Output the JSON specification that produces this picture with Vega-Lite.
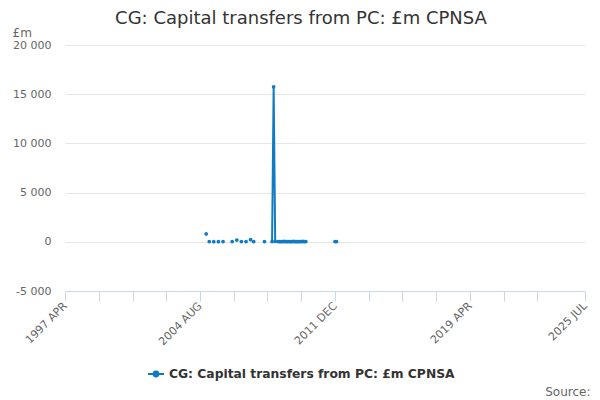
{
  "$schema": "https://vega.github.io/schema/vega-lite/v6.json",
  "description": "CG: Capital transfers from PC, monthly, £m CPNSA. Months with no value are null.",
  "autosize": "none",
  "width": 520,
  "height": 246,
  "padding": {"left": 65, "top": 45, "right": 15, "bottom": 109},
  "background": "white",
  "config": {
    "font": "DejaVu Sans",
    "view": {"stroke": null}
  },
  "title": {
    "text": "CG: Capital transfers from PC: £m CPNSA",
    "fontSize": 18,
    "fontWeight": "normal",
    "color": "#333333",
    "anchor": "middle",
    "frame": "bounds",
    "offset": 6,
    "dy": 8
  },
  "data": {
    "values": [
      {"month": "2004-12", "value": 800},
      {"month": "2005-01", "value": null},
      {"month": "2005-02", "value": 20},
      {"month": "2005-03", "value": null},
      {"month": "2005-05", "value": 10},
      {"month": "2005-06", "value": null},
      {"month": "2005-08", "value": 15},
      {"month": "2005-09", "value": null},
      {"month": "2005-11", "value": 20},
      {"month": "2005-12", "value": null},
      {"month": "2006-05", "value": 30},
      {"month": "2006-06", "value": null},
      {"month": "2006-08", "value": 180},
      {"month": "2006-09", "value": null},
      {"month": "2006-11", "value": 20},
      {"month": "2006-12", "value": null},
      {"month": "2007-02", "value": 25},
      {"month": "2007-03", "value": null},
      {"month": "2007-05", "value": 220},
      {"month": "2007-06", "value": null},
      {"month": "2007-07", "value": 30},
      {"month": "2007-08", "value": null},
      {"month": "2008-02", "value": 20},
      {"month": "2008-03", "value": null},
      {"month": "2008-07", "value": 30},
      {"month": "2008-08", "value": 15750},
      {"month": "2008-09", "value": 40},
      {"month": "2008-10", "value": null},
      {"month": "2008-11", "value": 20},
      {"month": "2008-12", "value": 30},
      {"month": "2009-01", "value": 10},
      {"month": "2009-02", "value": 25},
      {"month": "2009-03", "value": 40},
      {"month": "2009-04", "value": 15},
      {"month": "2009-05", "value": 20},
      {"month": "2009-06", "value": 30},
      {"month": "2009-07", "value": 10},
      {"month": "2009-08", "value": 20},
      {"month": "2009-09", "value": 35},
      {"month": "2009-10", "value": 15},
      {"month": "2009-11", "value": 20},
      {"month": "2009-12", "value": 30},
      {"month": "2010-01", "value": 10},
      {"month": "2010-02", "value": 20},
      {"month": "2010-03", "value": 40},
      {"month": "2010-04", "value": 15},
      {"month": "2010-05", "value": 20},
      {"month": "2010-06", "value": null},
      {"month": "2011-12", "value": 20},
      {"month": "2012-01", "value": 20}
    ]
  },
  "encoding": {
    "x": {
      "field": "month",
      "type": "temporal",
      "scale": {
        "type": "utc",
        "domain": [
          {"year": 1997, "month": 4, "date": 1, "utc": true},
          {"year": 2025, "month": 7, "date": 1, "utc": true}
        ]
      },
      "axis": {
        "title": "Source:",
        "titleFontSize": 12,
        "titleFontWeight": "normal",
        "titleColor": "#666666",
        "titleAnchor": "end",
        "titleAlign": "right",
        "titleBaseline": "alphabetic",
        "titleX": 525,
        "titleY": 104,
        "grid": false,
        "domainColor": "#ccd6eb",
        "tickColor": "#ccd6eb",
        "tickSize": 10,
        "labelAngle": -45,
        "labelAlign": "right",
        "labelBaseline": "middle",
        "labelPadding": 3,
        "labelFontSize": 11,
        "labelColor": "#666666",
        "labelOverlap": false,
        "values": [
          {"year": 1997, "month": 4, "date": 1, "utc": true},
          {"year": 1999, "month": 2, "date": 1, "utc": true},
          {"year": 2000, "month": 12, "date": 1, "utc": true},
          {"year": 2002, "month": 10, "date": 1, "utc": true},
          {"year": 2004, "month": 8, "date": 1, "utc": true},
          {"year": 2006, "month": 6, "date": 1, "utc": true},
          {"year": 2008, "month": 4, "date": 1, "utc": true},
          {"year": 2010, "month": 2, "date": 1, "utc": true},
          {"year": 2011, "month": 12, "date": 1, "utc": true},
          {"year": 2013, "month": 10, "date": 1, "utc": true},
          {"year": 2015, "month": 8, "date": 1, "utc": true},
          {"year": 2017, "month": 6, "date": 1, "utc": true},
          {"year": 2019, "month": 4, "date": 1, "utc": true},
          {"year": 2021, "month": 2, "date": 1, "utc": true},
          {"year": 2022, "month": 12, "date": 1, "utc": true},
          {"year": 2025, "month": 7, "date": 1, "utc": true}
        ],
        "labelExpr": "indexof(['1997 APR', '2004 AUG', '2011 DEC', '2019 APR', '2025 JUL'], upper(utcFormat(datum.value, '%Y %b'))) >= 0 ? upper(utcFormat(datum.value, '%Y %b')) : ''"
      }
    },
    "y": {
      "field": "value",
      "type": "quantitative",
      "scale": {"domain": [-5000, 20000], "nice": false, "zero": false},
      "axis": {
        "title": "£m",
        "titleAngle": 0,
        "titleAlign": "left",
        "titleBaseline": "alphabetic",
        "titleX": -53,
        "titleY": -9,
        "titleFontSize": 12,
        "titleFontWeight": "normal",
        "titleColor": "#666666",
        "values": [-5000, 0, 5000, 10000, 15000, 20000],
        "labelExpr": "datum.value == 0 ? '0' : (datum.value / 1000) + ' 000'",
        "labelFontSize": 11,
        "labelColor": "#666666",
        "labelPadding": 14,
        "ticks": false,
        "domain": false,
        "gridColor": "#e6e6e6"
      }
    },
    "color": {
      "datum": "CG: Capital transfers from PC: £m CPNSA",
      "type": "nominal",
      "scale": {"range": ["#0f7bc4"]},
      "legend": {
        "title": null,
        "orient": "none",
        "legendX": 82,
        "legendY": 320,
        "direction": "horizontal",
        "symbolType": "M-1,0L1,0M-0.3,0A0.3,0.3 0 1,0 0.3,0A0.3,0.3 0 1,0 -0.3,0Z",
        "symbolSize": 256,
        "symbolStrokeWidth": 2,
        "symbolStrokeColor": "#0f7bc4",
        "symbolFillColor": "#0f7bc4",
        "labelFontSize": 12.3,
        "labelFontWeight": "bold",
        "labelColor": "#333333",
        "labelLimit": 400
      }
    }
  },
  "layer": [
    {
      "mark": {"type": "line", "strokeWidth": 2, "invalid": "break-paths-filter-domains"}
    },
    {
      "mark": {"type": "point", "filled": true, "size": 14, "opacity": 1}
    }
  ]
}
